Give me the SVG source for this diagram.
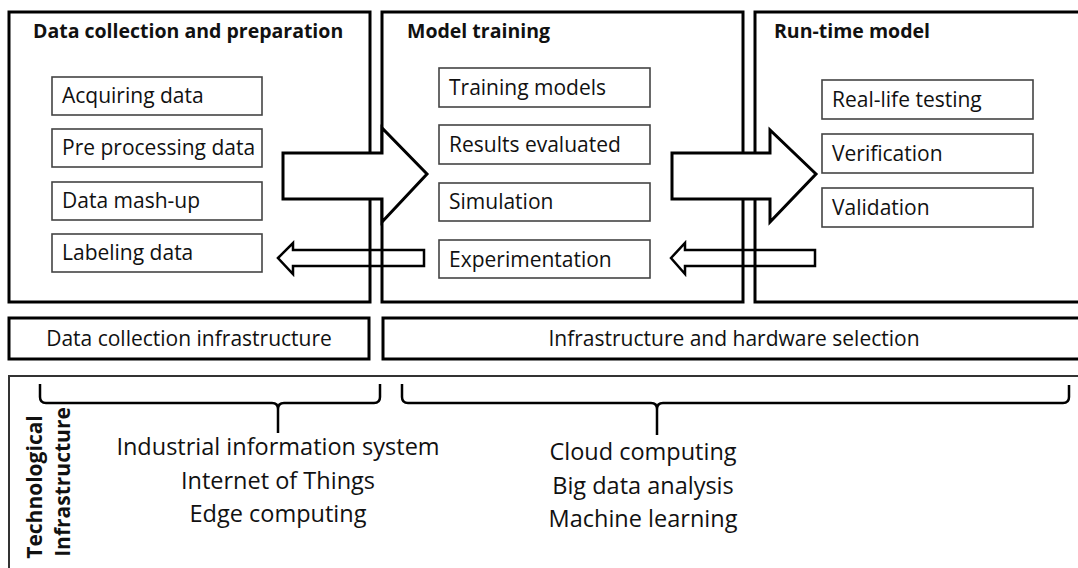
<svg xmlns="http://www.w3.org/2000/svg" width="1078" height="568" viewBox="0 0 1078 568">
  <style>
    .stage { fill: #fff; stroke: #000; stroke-width: 3; }
    .step { fill: #fff; stroke: #444; stroke-width: 1.6; }
    .infra { fill: #fff; stroke: #000; stroke-width: 3; }
    .base { fill: #fff; stroke: #333; stroke-width: 2; }
    .title { font-family: "Open Sans", "Liberation Sans", sans-serif; font-weight: bold; font-size: 19.5px; fill: #111; }
    .label { font-family: "Open Sans", "Liberation Sans", sans-serif; font-size: 21px; fill: #111; }
    .tech { font-family: "Open Sans", "Liberation Sans", sans-serif; font-size: 23.5px; fill: #111; text-anchor: middle; }
    .side { font-family: "Open Sans", "Liberation Sans", sans-serif; font-weight: bold; font-size: 21px; fill: #111; text-anchor: middle; }
    .big { fill: #fff; stroke: #000; stroke-width: 3; stroke-linejoin: miter; }
    .back { fill: none; stroke: #000; stroke-width: 2.5; stroke-linejoin: miter; }
    .brace { fill: none; stroke: #000; stroke-width: 2.5; }
  </style>

  <rect x="0" y="0" width="1078" height="568" fill="#fff"/>

  <!-- stage frames -->
  <g id="stage-data">
    <rect class="stage" x="9" y="12" width="361" height="290"/>
    <text class="title" x="33" y="38">Data collection and preparation</text>
  </g>
  <g id="stage-training">
    <rect class="stage" x="382" y="12" width="361" height="290"/>
    <text class="title" x="407" y="38">Model training</text>
  </g>
  <g id="stage-runtime">
    <rect class="stage" x="755" y="12" width="340" height="290"/>
    <text class="title" x="774" y="38">Run-time model</text>
  </g>

  <!-- data collection steps -->
  <g id="step-acquiring">
    <rect class="step" x="52" y="77" width="210" height="38"/>
    <text class="label" x="62" y="103">Acquiring data</text>
  </g>
  <g id="step-preprocessing">
    <rect class="step" x="52" y="129" width="210" height="38"/>
    <text class="label" x="62" y="155">Pre processing data</text>
  </g>
  <g id="step-mashup">
    <rect class="step" x="52" y="182" width="210" height="38"/>
    <text class="label" x="62" y="208">Data mash-up</text>
  </g>
  <g id="step-labeling">
    <rect class="step" x="52" y="234" width="210" height="38"/>
    <text class="label" x="62" y="260">Labeling data</text>
  </g>

  <!-- training steps -->
  <g id="step-training-models">
    <rect class="step" x="439" y="68" width="211" height="39"/>
    <text class="label" x="449" y="95">Training models</text>
  </g>
  <g id="step-results">
    <rect class="step" x="439" y="125" width="211" height="39"/>
    <text class="label" x="449" y="152">Results evaluated</text>
  </g>
  <g id="step-simulation">
    <rect class="step" x="439" y="183" width="211" height="38"/>
    <text class="label" x="449" y="209">Simulation</text>
  </g>
  <g id="step-experimentation">
    <rect class="step" x="439" y="240" width="211" height="38"/>
    <text class="label" x="449" y="267">Experimentation</text>
  </g>

  <!-- run-time steps -->
  <g id="step-real-life">
    <rect class="step" x="822" y="80" width="211" height="39"/>
    <text class="label" x="832" y="107">Real-life testing</text>
  </g>
  <g id="step-verification">
    <rect class="step" x="822" y="134" width="211" height="39"/>
    <text class="label" x="832" y="161">Verification</text>
  </g>
  <g id="step-validation">
    <rect class="step" x="822" y="188" width="211" height="39"/>
    <text class="label" x="832" y="215">Validation</text>
  </g>

  <!-- infrastructure bars -->
  <g id="infra-data">
    <rect class="infra" x="9" y="318" width="360" height="41"/>
    <text class="label" x="189" y="346" text-anchor="middle">Data collection infrastructure</text>
  </g>
  <g id="infra-hardware">
    <rect class="infra" x="383" y="318" width="710" height="41"/>
    <text class="label" x="734" y="346" text-anchor="middle">Infrastructure and hardware selection</text>
  </g>

  <!-- technological infrastructure panel -->
  <g id="tech-panel">
    <rect class="base" x="9" y="376" width="1090" height="200"/>
    <text class="side" transform="translate(42,487) rotate(-90)">Technological</text>
    <text class="side" transform="translate(70,482) rotate(-90)">Infrastructure</text>
  </g>
  <g id="tech-data">
    <text class="tech" x="278" y="455">Industrial information system</text>
    <text class="tech" x="278" y="489">Internet of Things</text>
    <text class="tech" x="278" y="522">Edge computing</text>
  </g>
  <g id="tech-hardware">
    <text class="tech" x="643" y="460">Cloud computing</text>
    <text class="tech" x="643" y="494">Big data analysis</text>
    <text class="tech" x="643" y="527">Machine learning</text>
  </g>

  <!-- connectors: flow arrows, feedback arrows and braces -->
  <g id="connectors">
    <path class="big" d="M283,153 L382,153 L382,128 L427,174 L382,222 L382,199 L283,199 Z"/>
    <path class="big" d="M672,153 L770,153 L770,130 L816,174 L770,222 L770,199 L672,199 Z"/>
    <path class="back" d="M278,258 L293,243 L293,250 L424,250 L424,266 L293,266 L293,274 Z"/>
    <path class="back" d="M671,258 L685,243 L685,250 L815,250 L815,266 L685,266 L685,274 Z"/>
    <path class="brace" d="M40,384 L40,397 Q40,403 46,403 L272,403 Q278,403 278,409 L278,433 M278,409 Q278,403 284,403 L374,403 Q380,403 380,397 L380,384"/>
    <path class="brace" d="M402,384 L402,397 Q402,403 408,403 L651,403 Q657,403 657,409 L657,435 M657,409 Q657,403 663,403 L1063,403 Q1069,403 1069,397 L1069,385"/>
  </g>
</svg>
